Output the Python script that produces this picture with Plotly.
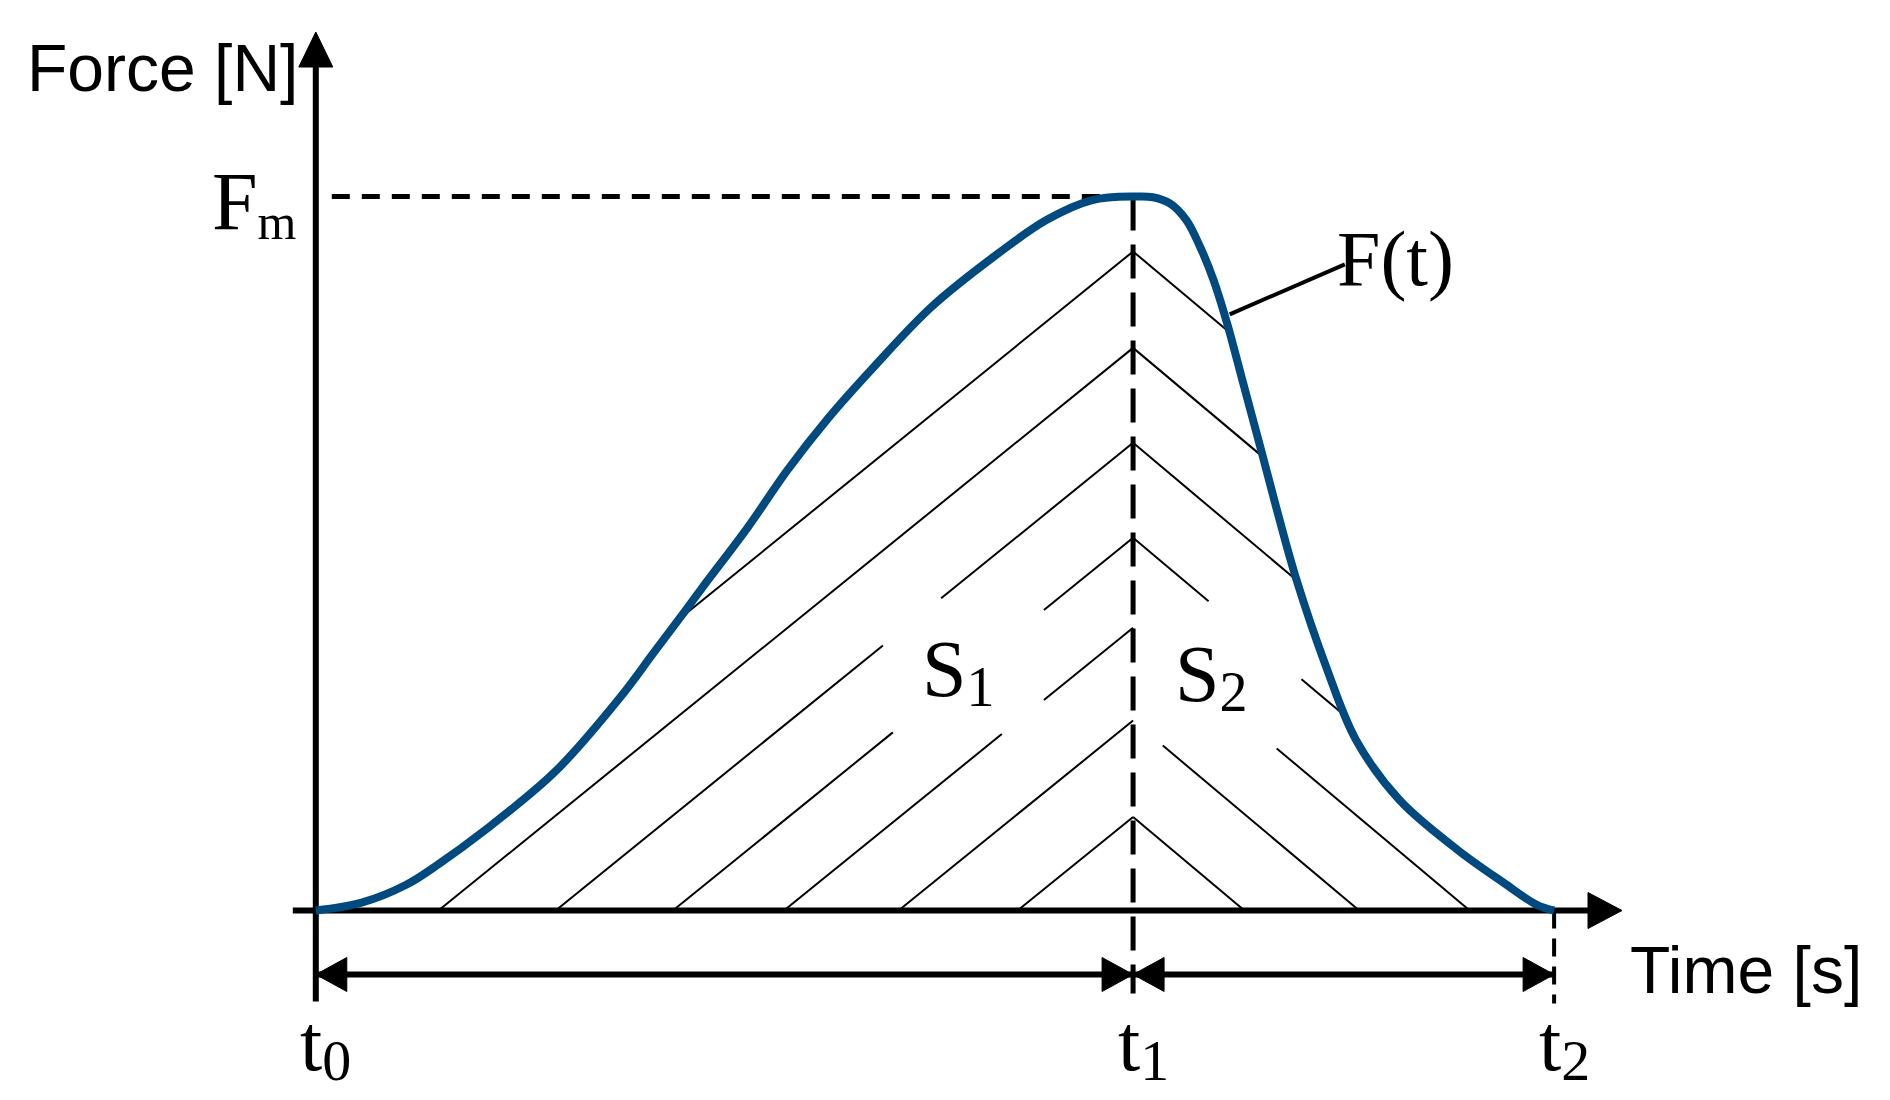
import numpy as np
import plotly.graph_objects as go

# F(t): time in s (t0 = 0, t2 = 10), force relative to Fm
time_s = [0.00, 0.37, 0.73, 1.00, 1.34, 1.93, 2.46, 2.72, 2.98,
          3.12, 3.49, 3.81, 4.14, 4.51, 4.97, 5.44, 5.90, 6.27, 6.62,
          6.76, 6.90, 7.03, 7.14, 7.25, 7.36, 7.49, 7.62, 7.76, 7.92,
          8.16, 8.40, 8.75, 9.22, 9.60, 9.86, 10.00]
force = [0.000, 0.011, 0.036, 0.066, 0.109, 0.194, 0.299, 0.359, 0.419,
         0.452, 0.537, 0.617, 0.690, 0.762, 0.845, 0.911, 0.967, 0.995, 1.000,
         0.999, 0.990, 0.967, 0.930, 0.883, 0.822, 0.738, 0.654, 0.562, 0.463,
         0.341, 0.239, 0.155, 0.085, 0.038, 0.008, 0.000]

t_marks = [0.0, 6.6, 10.0]          # t0, t1, t2
t_subs = ["0", "1", "2"]
f_max = 1.0                         # Fm

# hatch chevrons: apex heights on the t1 line
hatch_apex = [0.131, 0.266, 0.396, 0.522, 0.655, 0.788, 0.923]
# gaps left open round the S1 / S2 labels: (apex, t_from, t_to)
gaps_left = [(0.655, 4.58, 5.05), (0.522, 4.66, 5.88), (0.396, 5.54, 5.88)]
gaps_right = [(0.522, 7.21, 7.96), (0.396, 6.60, 7.76), (0.266, 6.60, 6.84)]

# leader from the curve to the F(t) label
leader_t = [7.38, 8.31]
leader_f = [0.835, 0.905]

# --- page geometry (pixels) ---
W, H = 1890, 1100
T0_PX, BASE_PX = 315.8, 910.5
PX_PER_S, PX_PER_F = 123.83, 714.0

BLUE = "#004A80"
SERIF = "Liberation Serif, Times New Roman, serif"
SANS = "Liberation Sans, Arial, sans-serif"


def dx(px):
    return px / PX_PER_S


def dy(px):
    return px / PX_PER_F


def curve_at(t):
    return np.interp(t, time_s, force)


def hatch_segments(apex, side, slope_px, gaps):
    t1 = t_marks[1]
    slope = slope_px * PX_PER_S / PX_PER_F
    sign = -1 if side == "left" else 1
    t_end = t1 + sign * apex / slope
    ts = np.linspace(t1, t_end, 3000)
    line = apex - slope * np.abs(ts - t1)
    ok = line <= curve_at(ts) + 1e-9
    # walk away from t1 until the line leaves the area under F(t)
    stop = len(ts) - 1
    for i in range(1, len(ts)):
        if not ok[i]:
            stop = i - 1
            break
    a, b = sorted([t1, ts[stop]])
    pieces = [(a, b)]
    for g_apex, g0, g1 in gaps:
        if abs(g_apex - apex) > 1e-6:
            continue
        new = []
        for p0, p1 in pieces:
            if g1 <= p0 or g0 >= p1:
                new.append((p0, p1))
                continue
            if g0 > p0:
                new.append((p0, g0))
            if g1 < p1:
                new.append((g1, p1))
        pieces = new
    xs, ys = [], []
    for p0, p1 in pieces:
        for t in (p0, p1):
            xs.append(t)
            ys.append(apex - slope * abs(t - t1))
        xs.append(None)
        ys.append(None)
    return xs, ys


def head(tip_x, tip_y, direction, length=34, half=17):
    if direction == "right":
        xs = [tip_x, tip_x - dx(length), tip_x - dx(length), tip_x]
        ys = [tip_y, tip_y + dy(half), tip_y - dy(half), tip_y]
    elif direction == "left":
        xs = [tip_x, tip_x + dx(length), tip_x + dx(length), tip_x]
        ys = [tip_y, tip_y + dy(half), tip_y - dy(half), tip_y]
    else:  # up
        xs = [tip_x, tip_x - dx(half), tip_x + dx(half), tip_x]
        ys = [tip_y, tip_y - dy(length), tip_y - dy(length), tip_y]
    return go.Scatter(x=xs, y=ys, mode="lines", fill="toself", fillcolor="black",
                      line=dict(color="black", width=1), hoverinfo="skip", showlegend=False)


def seg(xs, ys, width, dash="solid", color="black"):
    return go.Scatter(x=xs, y=ys, mode="lines",
                      line=dict(color=color, width=width, dash=dash),
                      hoverinfo="skip", showlegend=False)


def sub(main, low, size=56, shift=10):
    return f'{main}<span style="font-size:{size}px;baseline-shift:-{shift}px">{low}</span>'


t0, t1, t2 = t_marks
y_tip = BASE_PX / PX_PER_F - dy(32)
x_tip = t0 + dx(1622 - T0_PX)
arrow_y = -dy(64)

fig = go.Figure()

# hatching
hx, hy = [], []
for a in hatch_apex:
    for side, s_px, gaps in (("left", 0.81, gaps_left), ("right", 0.84, gaps_right)):
        xs, ys = hatch_segments(a, side, s_px, gaps)
        hx += xs
        hy += ys
fig.add_trace(go.Scatter(x=hx, y=hy, mode="lines", line=dict(color="black", width=2),
                         hoverinfo="skip", showlegend=False))

# dashed guides
fig.add_trace(seg([t0 + dx(16), t1], [f_max, f_max], 5, "18px,12px"))
fig.add_trace(seg([t1, t1], [f_max, -dy(83)], 5, "34px,14px"))
fig.add_trace(seg([t2, t2], [0, -dy(93)], 4, "18px,10px"))

# axes
fig.add_trace(seg([t0, t0], [-dy(91), y_tip - dy(20)], 6))
fig.add_trace(head(t0, y_tip, "up", 35, 17))
fig.add_trace(seg([t0 - dx(23), x_tip - dx(20)], [0, 0], 6))
fig.add_trace(head(x_tip, 0, "right", 34, 18))

# interval arrows t0-t1 and t1-t2
fig.add_trace(seg([t0, t2], [arrow_y, arrow_y], 6))
fig.add_trace(head(t0, arrow_y, "left", 31, 17))
fig.add_trace(head(t1, arrow_y, "right", 31, 17))
fig.add_trace(head(t1, arrow_y, "left", 31, 17))
fig.add_trace(head(t2, arrow_y, "right", 31, 17))

# F(t) curve and leader
fig.add_trace(go.Scatter(x=time_s, y=force, mode="lines",
                         line=dict(color=BLUE, width=8, shape="spline", smoothing=1.0),
                         hoverinfo="skip", showlegend=False))
fig.add_trace(seg(leader_t, leader_f, 4))


def label(text, x, y, size, family, xanchor="center", yanchor="middle"):
    return dict(x=x, y=y, xref="x", yref="y", text=text, showarrow=False,
                font=dict(family=family, size=size, color="black"),
                xanchor=xanchor, yanchor=yanchor)


annotations = [
    label("Force [N]", -1.24, 1.18, 66, SANS),
    label("Time [s]", 11.55, -0.083, 66, SANS),
    label(sub("F", "m", 50, 10), t0 - dx(17), f_max - dy(6), 82, SERIF, xanchor="right"),
    label("F(t)", 8.72, 0.913, 78, SERIF),
    label(sub("S", "1", 56, 10), 5.19, 0.335, 80, SERIF),
    label(sub("S", "2", 56, 10), 7.23, 0.328, 80, SERIF),
]
for t, s in zip(t_marks, t_subs):
    annotations.append(label(sub("t", s, 58, 10), t + dx(10), -0.19, 80, SERIF))

fig.update_layout(
    width=W, height=H,
    margin=dict(l=0, r=0, t=0, b=0),
    paper_bgcolor="white", plot_bgcolor="white",
    xaxis=dict(range=[-T0_PX / PX_PER_S, (W - T0_PX) / PX_PER_S], visible=False, fixedrange=True),
    yaxis=dict(range=[-(H - BASE_PX) / PX_PER_F, BASE_PX / PX_PER_F], visible=False, fixedrange=True),
    annotations=annotations,
    showlegend=False,
)

fig.write_html("out.html", config={"displayModeBar": False},
               post_script="document.body.style.margin='0';")
